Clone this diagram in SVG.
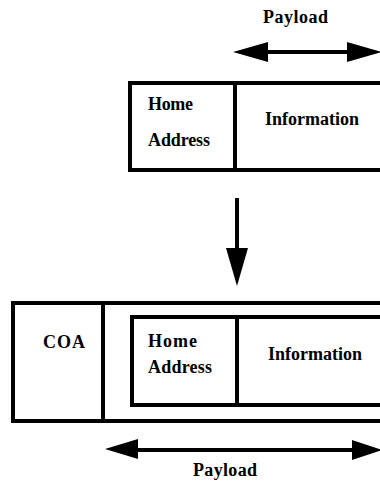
<svg xmlns="http://www.w3.org/2000/svg" width="380" height="483" viewBox="0 0 380 483">
<style>
.box{fill:none;stroke:#000;stroke-width:4}
.ln{stroke:#000;stroke-width:4;fill:none}
.t{font-family:"Liberation Serif",serif;font-weight:bold;font-size:18px;fill:#000}
.ah{fill:#000}
</style>
<rect width="380" height="483" fill="#fff"/>
<g id="connectors">
<line class="ln" x1="255" y1="52" x2="360" y2="52"/>
<polygon class="ah" points="233,52 268,42 268,62"/>
<polygon class="ah" points="382,52 347,42 347,62"/>
<line class="ln" x1="237" y1="198" x2="237" y2="252"/>
<polygon class="ah" points="226,248 248,248 237,286"/>
<line class="ln" x1="125" y1="450" x2="360" y2="450"/>
<polygon class="ah" points="105,449 138,439 138,459"/>
<polygon class="ah" points="382,450 352,440 352,460"/>
</g>
<g id="top-payload-label"><text class="t" x="263" y="23" textLength="65">Payload</text></g>
<g id="top-packet">
<rect class="box" x="130" y="83" width="270" height="87"/>
<line class="ln" x1="235" y1="83" x2="235" y2="170"/>
<text class="t" x="148" y="110" textLength="45">Home</text>
<text class="t" x="148" y="146" textLength="62">Address</text>
<text class="t" x="265" y="125" textLength="94">Information</text>
</g>
<g id="bottom-packet">
<rect class="box" x="13" y="303" width="390" height="118"/>
<line class="ln" x1="103" y1="303" x2="103" y2="421"/>
<text class="t" x="43" y="348" textLength="42">COA</text>
<rect class="box" x="132" y="317" width="270" height="88"/>
<line class="ln" x1="237" y1="317" x2="237" y2="405"/>
<text class="t" x="148" y="347" textLength="49">Home</text>
<text class="t" x="148" y="373" textLength="64">Address</text>
<text class="t" x="268" y="360" textLength="94">Information</text>
</g>
<g id="bottom-payload-label"><text class="t" x="193" y="476" textLength="64">Payload</text></g>
</svg>
